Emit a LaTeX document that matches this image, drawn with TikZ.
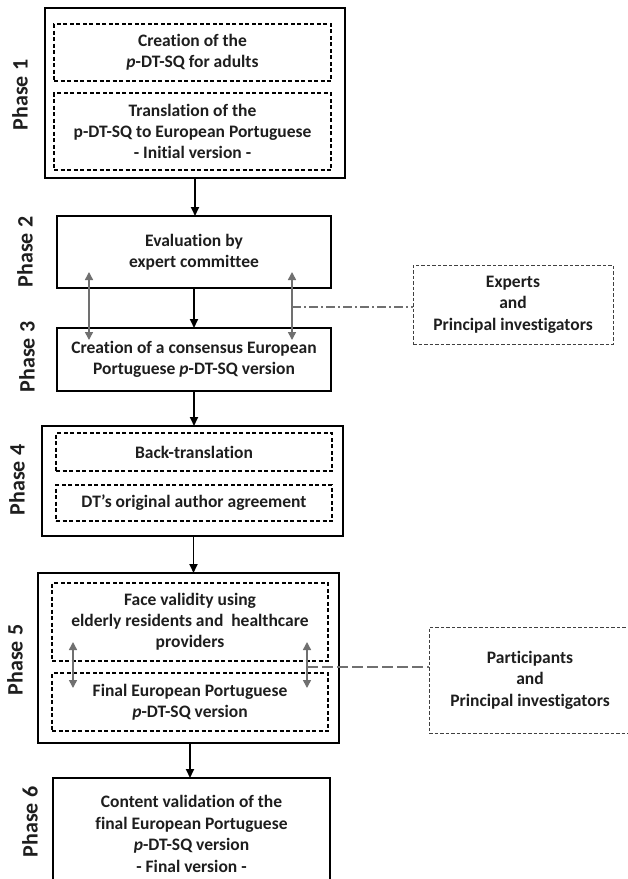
\documentclass[tikz,border=0pt]{standalone}
\usepackage{fontspec}
\setmainfont{Carlito}[Ligatures=NoCommon]
\usetikzlibrary{arrows.meta}
\definecolor{txt}{HTML}{1E1E1E}
\definecolor{conn}{HTML}{707070}
\tikzset{
  boxfont/.style={font=\fontsize{17.5}{20.8}\selectfont\bfseries},
  outerbox/.style={draw=black, line width=1.6pt, inner sep=0pt, outer sep=0pt, align=center, text=txt, boxfont},
  innerbox/.style={draw=black, line width=1.3pt, dash pattern=on 4pt off 2.5pt, inner sep=0pt, outer sep=0pt, align=center, text=txt, boxfont},
  sidebox/.style={draw=black!75, line width=1pt, dash pattern=on 3.5pt off 2pt, inner sep=0pt, outer sep=0pt, align=center, text=txt, font=\fontsize{17.5}{21.5}\selectfont\bfseries},
  phaselabel/.style={rotate=90, font=\fontsize{22}{24}\selectfont\bfseries, text=txt, inner sep=0pt},
  flowarrow/.style={draw=black, line width=1.7pt, -{Triangle[length=9pt,width=8pt]}},
  grayarrow/.style={draw=conn, line width=1.5pt, {Triangle[length=8pt,width=8pt]}-{Triangle[length=8pt,width=8pt]}},
  dashdotline/.style={draw=conn, line width=1.2pt, dash pattern=on 9pt off 3pt on 2pt off 3pt},
  longdashline/.style={draw=conn, line width=1.2pt, dash pattern=on 11pt off 4pt},
}
\begin{document}
\begin{tikzpicture}[x=1pt,y=-1pt]
\useasboundingbox (0,0) rectangle (628,879);
\clip (0,0) rectangle (628,879);
\fill[white] (0,0) rectangle (628,879);

% Phase 1
\node[outerbox, minimum width=300pt, minimum height=170pt] (p1) at (195,93) {};
\node[innerbox, minimum width=277pt, minimum height=57pt] (p1a) at (192.5,52.5) {Creation of the\\\textit{p}-DT-SQ for adults};
\node[innerbox, minimum width=277pt, minimum height=77pt] (p1b) at (192.5,131.5) {Translation of the\\p-DT-SQ to European Portuguese\\- Initial version -};
\node[phaselabel] (l1) at (20,95) {Phase 1};

% Phase 2
\node[outerbox, minimum width=274pt, minimum height=72pt] (p2) at (194,252) {Evaluation by\\expert committee};
\node[phaselabel] (l2) at (25,252) {Phase 2};

% Phase 3
\node[outerbox, minimum width=274pt, minimum height=63pt] (p3) at (194,359.5) {Creation of a consensus European\\Portuguese \textit{p}-DT-SQ version};
\node[phaselabel] (l3) at (27,357) {Phase 3};

% Experts
\node[sidebox, minimum width=200pt, minimum height=79pt] (exp) at (513,304.5) {Experts\\and\\Principal investigators};

% Phase 4
\node[outerbox, minimum width=301pt, minimum height=110pt] (p4) at (192.5,481) {};
\node[innerbox, minimum width=276pt, minimum height=38pt] (p4a) at (194,452) {Back-translation};
\node[innerbox, minimum width=276pt, minimum height=36pt] (p4b) at (194,503) {DT's original author agreement};
\node[phaselabel] (l4) at (17,480) {Phase 4};

% Phase 5
\node[outerbox, minimum width=301pt, minimum height=170pt] (p5) at (188.5,658) {};
\node[innerbox, minimum width=276pt, minimum height=78pt] (p5a) at (190,622) {Face validity using\\elderly residents and\ \ healthcare\\providers};
\node[innerbox, minimum width=276pt, minimum height=58pt] (p5b) at (190,702) {Final European Portuguese\\\textit{p}-DT-SQ version};
\node[phaselabel] (l5) at (15,660) {Phase 5};

% Participants
\node[sidebox, minimum width=202pt, minimum height=106pt] (par) at (530,680) {Participants\\and\\Principal investigators};

% Phase 6
\node[outerbox, minimum width=277pt, minimum height=112pt, font=\fontsize{17.5}{21.5}\selectfont\bfseries] (p6) at (191.5,834) {Content validation of the\\final European Portuguese\\\textit{p}-DT-SQ version\\- Final version -};
\node[phaselabel] (l6) at (30,822) {Phase 6};

% flow arrows
\draw[flowarrow] (p1.south) -- (p1.south |- p2.north);
\draw[flowarrow] (p2.south) -- (p2.south |- p3.north);
\draw[flowarrow] (p3.south) -- (p3.south |- p4.north);
\draw[flowarrow] ([xshift=1pt]p4.south) -- ([xshift=1pt]p4.south |- p5.north);
\draw[flowarrow] ([xshift=1.5pt]p5.south) -- ([xshift=1.5pt]p5.south |- p6.north);

% gray double arrows between phases 2 and 3
\coordinate (ga1) at (89,272);
\coordinate (gb1) at (89,340);
\coordinate (ga2) at (292,272);
\coordinate (gb2) at (292,340);
\coordinate (gm2) at (292,307);
\draw[grayarrow] (ga1) -- (gb1);
\draw[grayarrow] (ga2) -- (gb2);
\draw[dashdotline] (gm2) -- (gm2 -| exp.west);

% gray double arrows in phase 5
\coordinate (ha1) at (73,642);
\coordinate (hb1) at (73,688);
\coordinate (ha2) at (307,642);
\coordinate (hb2) at (307,688);
\coordinate (hm2) at (307,667);
\draw[grayarrow] (ha1) -- (hb1);
\draw[grayarrow] (ha2) -- (hb2);
\draw[longdashline] (hm2) -- (hm2 -| par.west);
\end{tikzpicture}
\end{document}
